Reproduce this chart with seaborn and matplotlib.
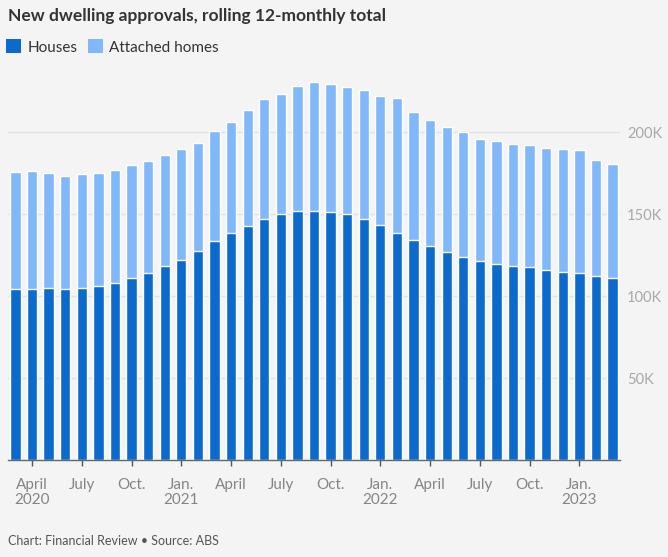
import matplotlib
matplotlib.use("Agg")
import matplotlib.pyplot as plt
import seaborn as sns
import pandas as pd
import numpy as np
from matplotlib.patches import Patch
from matplotlib.ticker import FuncFormatter, FixedLocator

# Data (thousands), monthly Mar 2020 .. Mar 2023
months = pd.date_range("2020-03-01", "2023-03-01", freq="MS")
houses = [104.1, 104.1, 104.7, 104.1, 104.7, 105.9, 107.7, 110.8, 113.8, 118.3,
          122.0, 127.2, 133.3, 138.2, 142.9, 147.2, 149.8, 152.0, 151.8, 151.2,
          149.8, 147.0, 143.1, 138.6, 134.1, 130.5, 126.6, 123.6, 121.3, 119.7,
          118.5, 117.5, 116.0, 114.8, 113.8, 112.3, 110.8]
attached = [71.3, 72.1, 70.5, 69.1, 69.7, 69.3, 69.1, 68.9, 68.5, 67.5,
            67.4, 65.9, 67.5, 67.9, 70.3, 73.1, 73.6, 76.2, 78.5, 77.9,
            77.8, 78.6, 78.9, 81.9, 78.3, 76.8, 76.7, 76.6, 74.2, 74.6,
            74.2, 74.4, 74.4, 74.8, 75.2, 70.6, 69.7]
tick_months = ["2020-04", "2020-07", "2020-10", "2021-01", "2021-04", "2021-07",
               "2021-10", "2022-01", "2022-04", "2022-07", "2022-10", "2023-01"]
tick_labels = ["April\n2020", "July", "Oct.", "Jan.\n2021", "April", "July",
               "Oct.", "Jan.\n2022", "April", "July", "Oct.", "Jan.\n2023"]
y_ticks = [50000, 100000, 150000, 200000]

df = pd.DataFrame({
    "month": months.strftime("%Y-%m"),
    "houses": np.array(houses) * 1000,
    "attached": np.array(attached) * 1000,
})
df["total"] = df["houses"] + df["attached"]

BG = "#f4f4f4"
C_HOUSE = "#0b6acb"
C_ATT = "#80b8fa"

sns.set_theme(style="white")
plt.rcParams["font.family"] = ["Lato", "DejaVu Sans"]

fig = plt.figure(figsize=(6.68, 5.57), dpi=100, facecolor=BG)
ax = fig.add_axes([8 / 668, (557 - 460) / 557, 612 / 668, (460 - 74.6) / 557])
ax.set_facecolor(BG)

order = list(df["month"])
sns.barplot(data=df, x="month", y="total", order=order, color=C_ATT,
            width=0.62, saturation=1, ax=ax, zorder=2)
sns.barplot(data=df, x="month", y="houses", order=order, color=C_HOUSE,
            width=0.62, saturation=1, ax=ax, zorder=3)

ax.set_xlim(-0.45, len(order) - 1 + 0.45)
ax.set_ylim(0, 235000)

for s in ["top", "left", "right"]:
    ax.spines[s].set_visible(False)
ax.spines["bottom"].set_color("#666666")
ax.spines["bottom"].set_linewidth(1.0)
ax.spines["bottom"].set_zorder(5)

tick_pos = [order.index(m) for m in tick_months]
ax.xaxis.set_major_locator(FixedLocator(tick_pos))
ax.set_xticklabels(tick_labels, fontsize=11, color="#858585", linespacing=1.1)
ax.tick_params(axis="x", length=4, width=1, color="#555555", pad=9, bottom=True)

ax.yaxis.tick_right()
ax.set_yticks(y_ticks)
ax.yaxis.set_major_formatter(FuncFormatter(lambda v, p: f"{int(v/1000)}K"))
ax.tick_params(axis="y", length=0, labelsize=10.5, labelcolor="#a8a8a8", pad=5, right=False)
ax.grid(axis="y", color="#e2e2e2", linewidth=1, zorder=0)
ax.set_axisbelow(True)
ax.set_xlabel("")
ax.set_ylabel("")

fig.text(8 / 668, 1 - 16 / 557, "New dwelling approvals, rolling 12-monthly total",
         fontsize=12.5, fontweight="bold", color="#333333", va="center", ha="left")

handles = [Patch(facecolor=C_HOUSE, edgecolor="none", label="Houses"),
           Patch(facecolor=C_ATT, edgecolor="none", label="Attached homes")]
fig.legend(handles=handles, loc="center left", bbox_to_anchor=(6 / 668, 1 - 47 / 557),
           ncol=2, frameon=False, fontsize=11, handlelength=1.0, handleheight=1.0,
           handletextpad=0.4, columnspacing=0.7, borderpad=0, borderaxespad=0,
           labelcolor="#333333")

fig.text(8 / 668, 1 - 541 / 557, "Chart: Financial Review \u2022 Source: ABS",
         fontsize=9, color="#555555", va="center", ha="left")

fig.savefig("out.png", dpi=100, facecolor=BG)
